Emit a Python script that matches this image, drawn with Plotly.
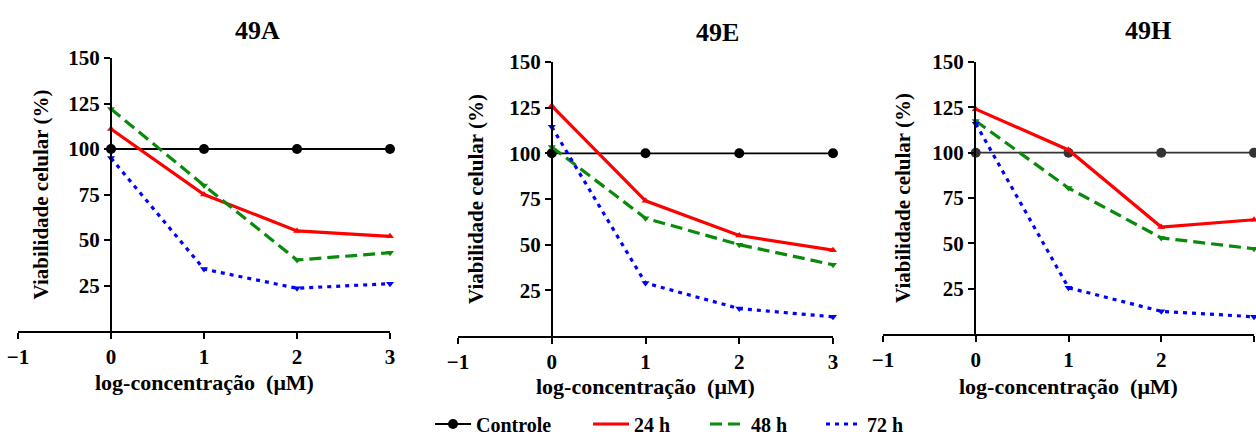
import plotly.graph_objects as go

W, H = 1256, 436

# ---------------- data ----------------
x_conc = [0, 1, 2, 3]
x_ticks = [-1, 0, 1, 2, 3]
y_ticks = [25, 50, 75, 100, 125, 150]
panel_titles = ["49A", "49E", "49H"]
series_names = ["Controle", "24 h", "48 h", "72 h"]

ctrl_49A = [100, 100, 100, 100]
h24_49A = [111, 75, 55, 52]
h48_49A = [122, 80, 39, 43]
h72_49A = [95, 34, 23.5, 26]

ctrl_49E = [100, 100, 100, 100]
h24_49E = [126, 74, 55, 47]
h48_49E = [103.5, 64.5, 50, 39]
h72_49E = [114.5, 29, 15, 10.5]

ctrl_49H = [100, 100, 100, 100]
h24_49H = [124, 101.5, 59, 63]
h48_49H = [117.5, 80.5, 53, 47]
h72_49H = [116, 25.5, 12.5, 9.5]

panel_data = [
    (ctrl_49A, h24_49A, h48_49A, h72_49A),
    (ctrl_49E, h24_49E, h48_49E, h72_49E),
    (ctrl_49H, h24_49H, h48_49H, h72_49H),
]

# ---------------- layout geometry (pixels) ----------------
def px(v):
    return v / W

def py(v):
    return 1 - v / H

geo = [
    dict(xd=(18, 390), yd=(58, 331), pos=111, title=(257, 31), ytx=40, xty=382),
    dict(xd=(458, 833), yd=(62, 336), pos=552, title=(717, 32), ytx=476, xty=386),
    dict(xd=(883, 1254), yd=(62, 334), pos=975, title=(1148, 31), ytx=903, xty=386),
]

FONT = "Liberation Serif"
ctrl_colors = ["#000000", "#000000", "#333333"]
styles = {
    "24 h": dict(color="#FF0000", dash="solid", symbol="triangle-up"),
    "48 h": dict(color="#0A8A0A", dash="12px,6px", symbol="triangle-down"),
    "72 h": dict(color="#0000FF", dash="4px,5px", symbol="triangle-down"),
}
legend_ids = {"Controle": "legend", "24 h": "legend2", "48 h": "legend3", "72 h": "legend4"}

fig = go.Figure()
annotations = []

for i, (title, data, g) in enumerate(zip(panel_titles, panel_data, geo)):
    n = "" if i == 0 else str(i + 1)
    xa, ya = "x" + n, "y" + n
    ctrl, s24, s48, s72 = data
    show = i == 0
    fig.add_trace(go.Scatter(
        x=x_conc, y=ctrl, xaxis=xa, yaxis=ya, mode="lines+markers",
        name="<b>Controle</b>", legend=legend_ids["Controle"], showlegend=show,
        line=dict(color=ctrl_colors[i], width=1.8),
        marker=dict(color=ctrl_colors[i], size=10, symbol="circle"),
        cliponaxis=False))
    for name, vals in zip(series_names[1:], (s24, s48, s72)):
        st = styles[name]
        fig.add_trace(go.Scatter(
            x=x_conc, y=vals, xaxis=xa, yaxis=ya, mode="lines",
            name="<b>" + name + "</b>", legend=legend_ids[name], showlegend=show,
            line=dict(color=st["color"], width=3.2, dash=st["dash"])))
        fig.add_trace(go.Scatter(
            x=x_conc, y=vals, xaxis=xa, yaxis=ya, mode="markers",
            name=name, showlegend=False,
            marker=dict(color=st["color"], size=7, symbol=st["symbol"]),
            cliponaxis=False))

    axis_common = dict(showgrid=False, zeroline=False, showline=True, linecolor="black",
                       linewidth=2, ticks="outside", ticklen=6, tickwidth=2, tickcolor="black",
                       tickfont=dict(family=FONT, size=21, color="black", weight="bold"),
                       automargin=False)
    fig.update_layout(**{
        "xaxis" + n: dict(domain=[px(g["xd"][0]), px(g["xd"][1])], range=[-1, 3],
                          tickvals=x_ticks, anchor=ya, **axis_common),
        "yaxis" + n: dict(domain=[py(g["yd"][1]), py(g["yd"][0])], range=[0, 150],
                          tickvals=y_ticks, anchor="free", position=px(g["pos"]),
                          **axis_common),
    })
    annotations.append(dict(text="<b>" + title + "</b>", x=px(g["title"][0]), y=py(g["title"][1]),
                            xref="paper", yref="paper", showarrow=False,
                            xanchor="center", yanchor="middle",
                            font=dict(family=FONT, size=26, color="black")))
    annotations.append(dict(text="<b>Viabilidade celular (%)</b>", x=px(g["ytx"]),
                            y=py((g["yd"][0] + g["yd"][1]) / 2),
                            xref="paper", yref="paper", showarrow=False, textangle=-90,
                            xanchor="center", yanchor="middle",
                            font=dict(family=FONT, size=21, color="black")))
    annotations.append(dict(text="<b>log-concentração  (μM)</b>", x=px((g["xd"][0] + g["xd"][1]) / 2),
                            y=py(g["xty"]), xref="paper", yref="paper", showarrow=False,
                            xanchor="center", yanchor="middle",
                            font=dict(family=FONT, size=22, color="black")))

leg_font = dict(family=FONT, size=20, color="black")
leg_y = py(424)
def leg(xpix):
    return dict(x=px(xpix), y=leg_y, xanchor="left", yanchor="middle",
                orientation="h", font=leg_font, bgcolor="rgba(0,0,0,0)",
                borderwidth=0, itemwidth=36)

fig.update_layout(
    width=W, height=H, margin=dict(l=0, r=0, t=0, b=0, autoexpand=False),
    paper_bgcolor="white", plot_bgcolor="white",
    font=dict(family=FONT, color="black"),
    annotations=annotations,
    legend=leg(430), legend2=leg(588), legend3=leg(705), legend4=leg(821),
)

fig.write_html("out.html")
